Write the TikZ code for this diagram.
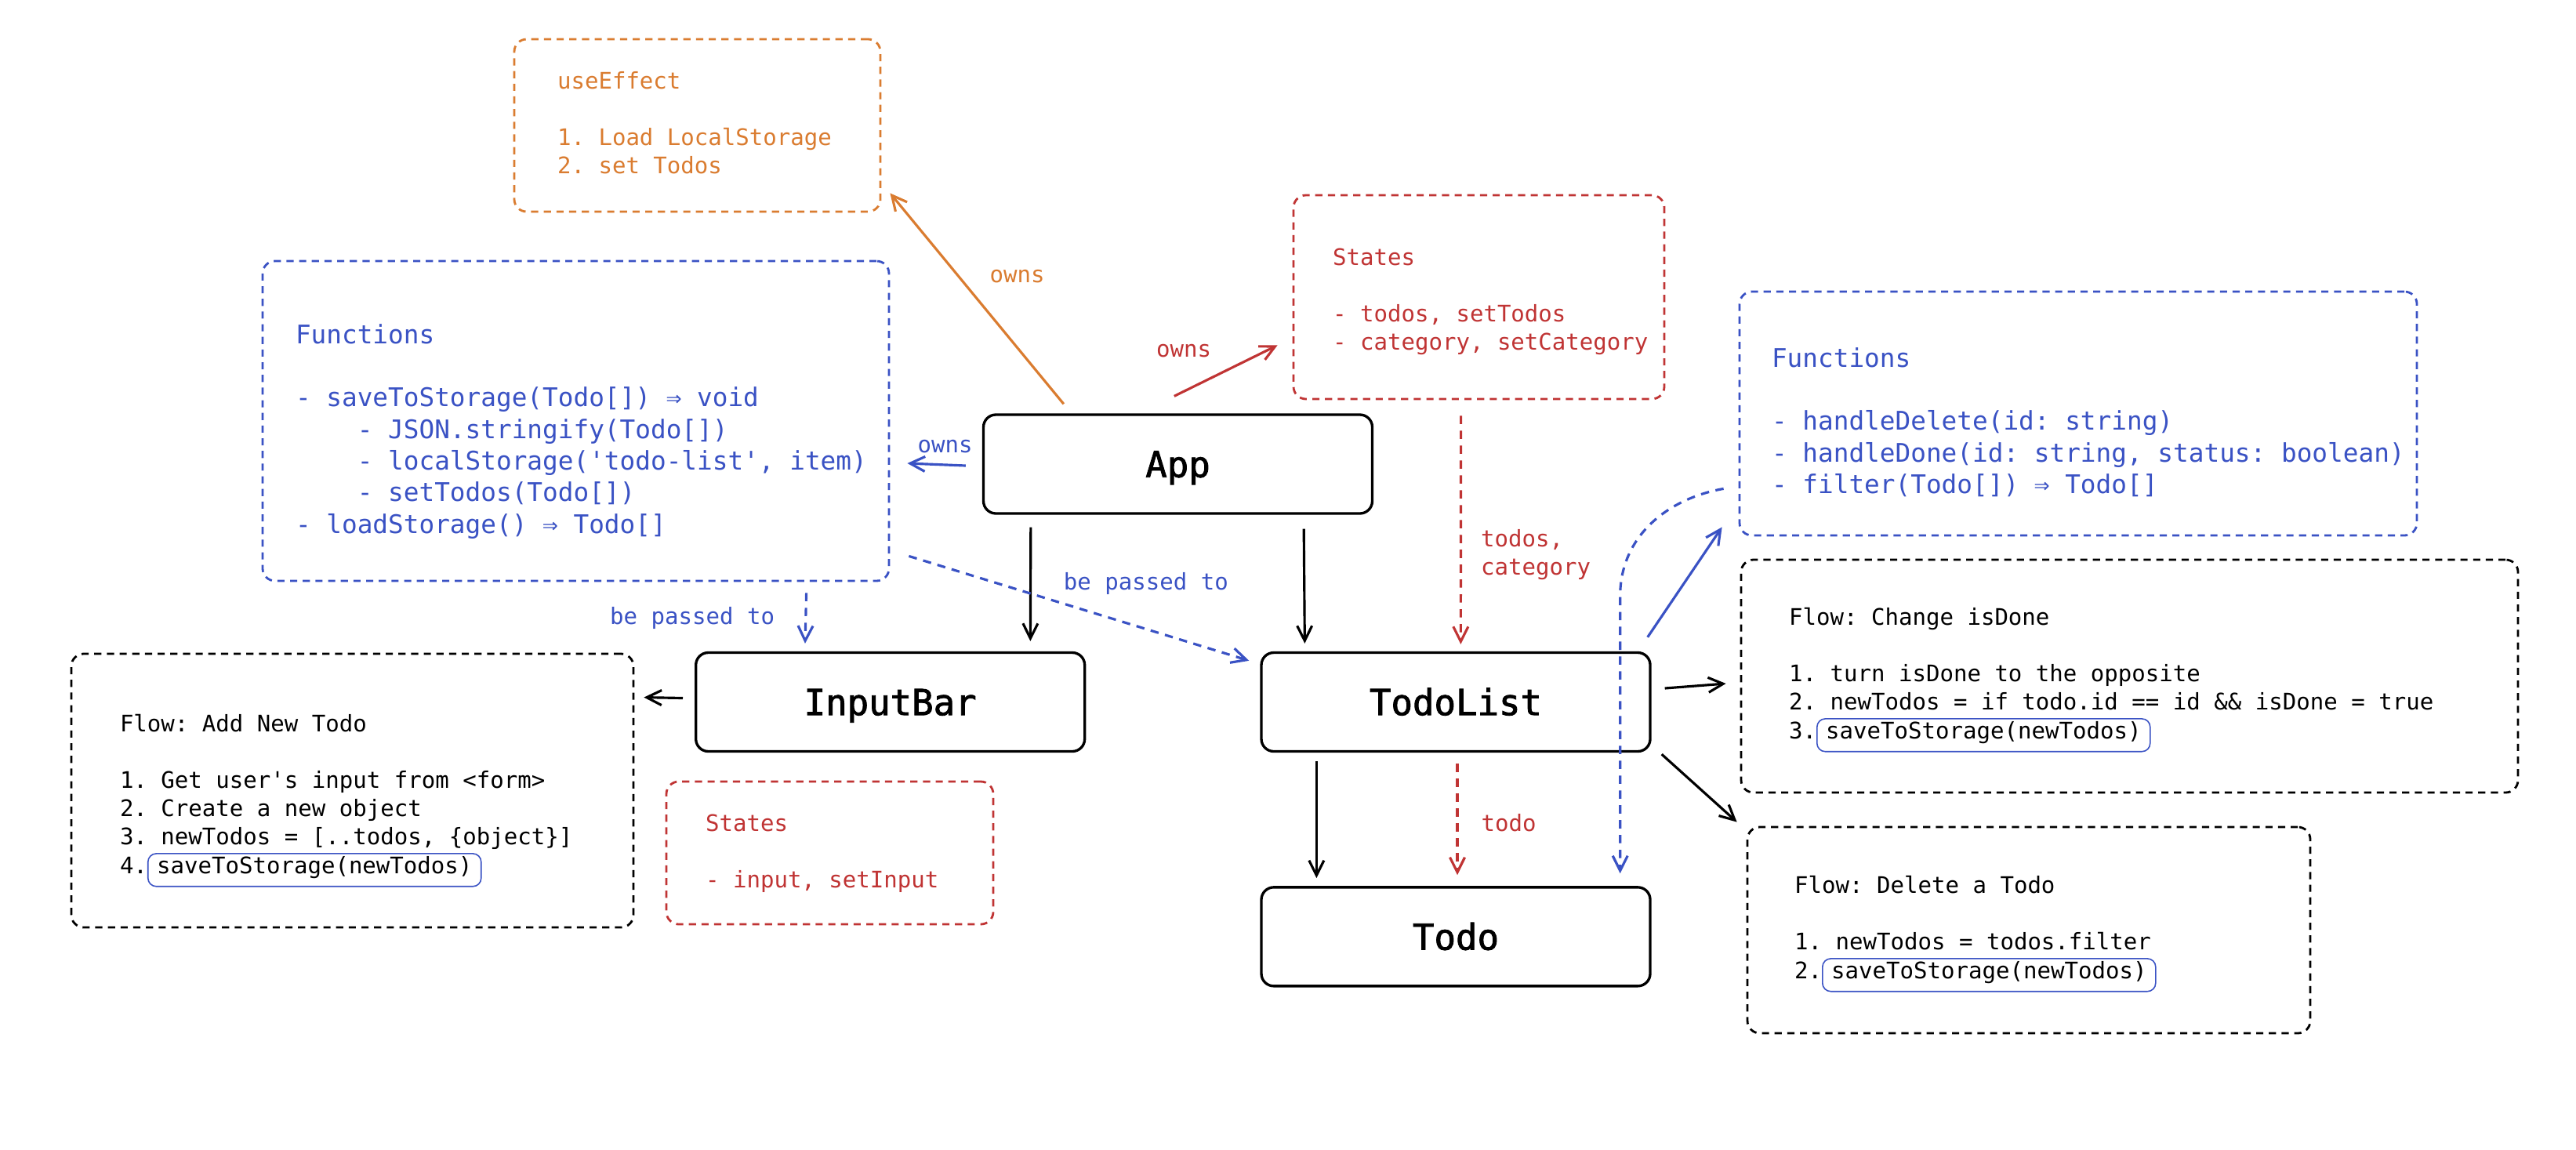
\documentclass[tikz,border=0pt]{standalone}
\usepackage{fontspec}
\setmonofont{DejaVu Sans Mono}
\newfontfamily\compfont{DejaVu Sans Mono}[FakeBold=1.8]
\usetikzlibrary{arrows.meta,positioning,calc}

\definecolor{fxorange}{RGB}{218,124,48}
\definecolor{stred}{RGB}{192,52,52}
\definecolor{fnblue}{RGB}{58,82,196}

\newcommand{\notefont}{\ttfamily\fontsize{8.27pt}{10.25pt}\selectfont}
\newcommand{\funcfont}{\ttfamily\fontsize{9.31pt}{11.47pt}\selectfont}
\newcommand{\indnt}{\phantom{xxxx}}
% width, height, left pad, top pad, lines
\newcommand{\notetext}[5]{\parbox[c][#2][t]{#1}{\vspace*{#4}\hspace*{#3}\begin{tabular}[t]{@{}l@{}}#5\end{tabular}}}
\tikzset{callbox/.style={draw=fnblue, solid, line width=0.45pt, rounded corners=3pt, inner xsep=3.2pt, inner ysep=0pt, text height=7.4pt, text depth=4.5pt, text=black}}
\newcommand{\callbox}[1]{\tikz[baseline=(cb.base)]\node[callbox] (cb) {#1};}

\begin{document}
\begin{tikzpicture}[
    comp/.style={draw, line width=0.95pt, rounded corners=4.5pt, minimum width=4.96cm, minimum height=1.26cm, inner sep=0pt, font=\compfont\fontsize{13pt}{15pt}\selectfont, text height=9.5pt, text depth=0pt},
    notebox/.style={draw, dash pattern=on 2.6pt off 2pt, line width=0.8pt, rounded corners=4.5pt, inner sep=0pt, font=\notefont},
    funcbox/.style={notebox, font=\funcfont},
    link/.style={-{Straight Barb[length=1.9mm,width=1.9mm]}, line width=0.9pt},
    passed/.style={link, dash pattern=on 3pt off 2.4pt},
    lbl/.style={inner sep=0pt, font=\notefont, align=left}
]
\useasboundingbox (0,0) rectangle (32.86,-14.66);
\fill[white] (0,0) rectangle (32.86,-14.66);

% components
\node[comp] (app) at (15.025,-5.92) {App};
\node[comp] (todolist) at (18.57,-8.955) {TodoList};
\node[comp, left=2.22cm of todolist] (inputbar) {InputBar};
\node[comp, below=1.70cm of todolist] (todo) {Todo};

% notes
\node[notebox, draw=fxorange, text=fxorange] (useeffect) at (8.895,-1.60) {\notetext{4.67cm}{2.20cm}{0.55cm}{0.38cm}{useEffect\\ \\ 1. Load LocalStorage\\ 2. set Todos}};
\node[notebox, draw=stred, text=stred] (statesapp) at (18.865,-3.79) {\notetext{4.73cm}{2.60cm}{0.50cm}{0.64cm}{States\\ \\ - todos, setTodos\\ - category, setCategory}};
\node[funcbox, draw=fnblue, text=fnblue] (fnapp) at (7.345,-5.37) {\notetext{7.99cm}{4.08cm}{0.42cm}{0.77cm}{Functions\\ \\ - saveToStorage(Todo[]) ⇒ void\\ \indnt- JSON.stringify(Todo[])\\ \indnt- localStorage('todo-list', item)\\ \indnt- setTodos(Todo[])\\ - loadStorage() ⇒ Todo[]}};
\node[funcbox, draw=fnblue, text=fnblue] (fnlist) at (26.51,-5.275) {\notetext{8.64cm}{3.11cm}{0.41cm}{0.68cm}{Functions\\ \\ - handleDelete(id: string)\\ - handleDone(id: string, status: boolean)\\ - filter(Todo[]) ⇒ Todo[]}};
\node[notebox] (flowadd) at (4.495,-10.085) {\notetext{7.17cm}{3.49cm}{0.62cm}{0.74cm}{Flow: Add New Todo\\ \\ 1. Get user's input from <form>\\ 2. Create a new object\\ 3. newTodos = [..todos, \{object\}]\\ 4.\callbox{saveToStorage(newTodos)}}};
\node[notebox, draw=stred, text=stred] (statesbar) at (10.585,-10.88) {\notetext{4.17cm}{1.82cm}{0.50cm}{0.38cm}{States\\ \\ - input, setInput}};
\node[notebox] (flowdone) at (27.165,-8.625) {\notetext{9.91cm}{2.97cm}{0.61cm}{0.58cm}{Flow: Change isDone\\ \\ 1. turn isDone to the opposite\\ 2. newTodos = if todo.id == id \&\& isDone = true\\ 3.\callbox{saveToStorage(newTodos)}}};
\node[notebox] (flowdelete) at (25.88,-11.865) {\notetext{7.18cm}{2.63cm}{0.60cm}{0.59cm}{Flow: Delete a Todo\\ \\ 1. newTodos = todos.filter\\ 2.\callbox{saveToStorage(newTodos)}}};

% connectors
\draw[link, fxorange] ($(app.north west)+(1.04,0.12)$) -- node[lbl, midway, xshift=0.515cm, yshift=0.28cm] (ownseffect) {owns} ($(useeffect.south east)+(0.11,0.25)$);
\draw[link, stred] ($(app.north west)+(2.45,0.22)$) -- node[lbl, midway, xshift=-0.535cm, yshift=0.25cm] (ownsstates) {owns} ($(statesapp.south west)+(-0.19,0.70)$);
\draw[link, fnblue] ($(app.west)+(-0.21,-0.02)$) -- node[lbl, midway, xshift=0.11cm, yshift=0.225cm] (ownsfuncs) {owns} ($(fnapp.east)+(0.22,-0.54)$);
\draw[link] ($(app.south west)+(0.62,-0.16)$) -- ($(inputbar.north east)+(-0.71,0.13)$);
\draw[link] ($(app.south east)+(-0.89,-0.18)$) -- ($(todolist.north west)+(0.57,0.10)$);
\draw[passed, fnblue] ($(fnapp.south east)+(0.24,0.33)$) -- node[lbl, midway, xshift=0.855cm, yshift=0.315cm] (passlist) {be passed to} ($(todolist.north west)+(-0.14,-0.12)$);
\draw[passed, fnblue] ($(fnapp.south west)+(6.95,-0.14)$) -- node[lbl, midway, left=0.38cm] (passbar) {be passed to} ($(inputbar.north west)+(1.41,0.10)$);
\draw[link] ($(inputbar.west)+(-0.15,0.05)$) -- ($(flowadd.north east)+(0.12,-0.57)$);
\draw[passed, stred] ($(statesapp.south west)+(2.15,-0.20)$) -- node[lbl, pos=0.608, right=0.24cm] (propslist) {todos,\\category} ($(todolist.north west)+(2.56,0.09)$);
\draw[passed, stred] ($(todolist.south)+(0.02,-0.14)$) -- node[lbl, pos=0.53, right=0.29cm] (proptodo) {todo} ($(todo.north)+(0.02,0.14)$);
\draw[link] ($(todolist.south west)+(0.72,-0.11)$) -- ($(todo.north west)+(0.72,0.10)$);
\draw[link, fnblue] ($(todolist.north east)+(-0.05,0.18)$) -- ($(fnlist.south west)+(-0.21,0.12)$);
\draw[link] ($(todolist.east)+(0.17,0.175)$) -- ($(flowdone.west)+(-0.18,-0.095)$);
\draw[link] ($(todolist.south east)+(0.13,-0.02)$) -- ($(flowdelete.north west)+(-0.12,0.05)$);
\draw[passed, fnblue] ($(fnlist.south west)+(-0.19,0.61)$) to[out=190,in=90] ($(todo.north east)+(-0.40,3.70)$) -- ($(todo.north east)+(-0.40,0.16)$);
\end{tikzpicture}
\end{document}
